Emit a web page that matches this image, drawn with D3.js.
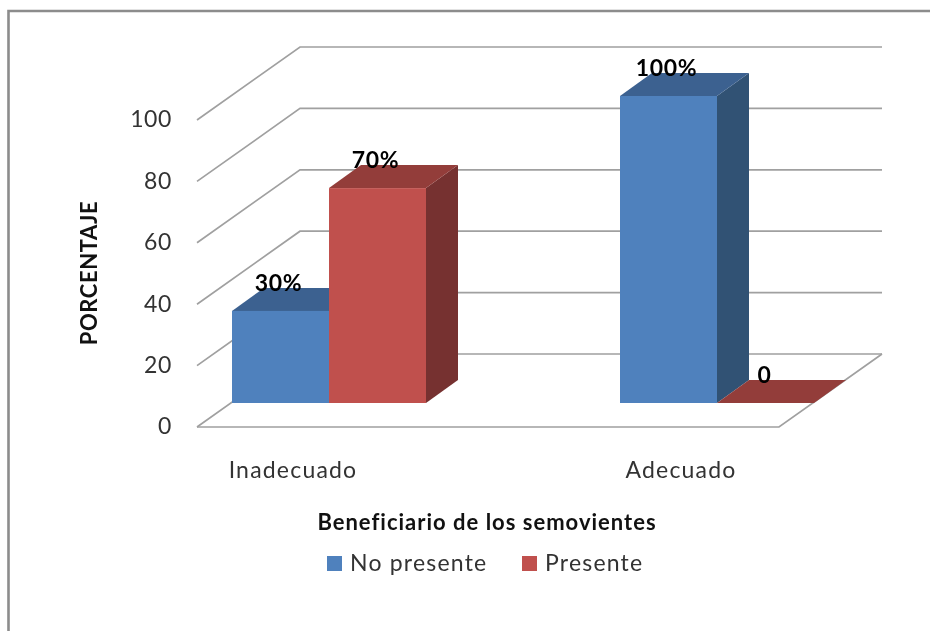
<!DOCTYPE html>
<html><head><meta charset="utf-8">
<script src="https://cdn.jsdelivr.net/npm/d3@7"></script>
<style>html,body{margin:0;padding:0;background:#fff}svg{display:block;filter:blur(0.45px)}text{font-family:Lato,"Open Sans",sans-serif}</style>
</head><body><svg id="c" width="930" height="631"></svg>
<script>
const categories = ["Inadecuado", "Adecuado"];
const seriesNames = ["No presente", "Presente"];
const noPresente = [30, 100];
const presente = [70, 0];
const dataLabels = [["30%", "100%"], ["70%", "0"]];
const yTicks = [0, 20, 40, 60, 80, 100];
const frontColors = ["#4f81bd", "#c0504d"];
const topColors = ["#3c6190", "#933d3a"];
const sideColors = ["#315274", "#763130"];

const svg = d3.select("#c");
svg.append("path").attr("d", "M8.5,631V11H930").attr("fill", "none").attr("stroke", "#8c8c8c").attr("stroke-width", 2.6);

const axisY = d3.scaleLinear().domain([0, 100]).range([427, 120]);
const depth = {dx: 103, dy: -73};
const floorLeft = 197, floorRight = 779;
const gridG = svg.append("g").attr("fill", "none").attr("stroke", "#a0a0a0").attr("stroke-width", 1.7);
yTicks.forEach(t => {
  const y = axisY(t);
  gridG.append("path").attr("d", `M${floorLeft},${y}L${floorLeft + depth.dx},${y + depth.dy}H${floorRight + depth.dx + 0}`);
});
gridG.append("path").attr("d", `M${floorLeft},427H${floorRight}L${floorRight + depth.dx},${427 + depth.dy}`);

const yAxis = d3.axisLeft(axisY).tickValues(yTicks).tickSize(0).tickPadding(0);
const yg = svg.append("g").attr("transform", "translate(172,0)").call(yAxis);
yg.select(".domain").remove();
yg.selectAll("text").attr("font-size", 23).attr("fill", "#333").attr("dy", "0.3em").attr("letter-spacing", 0.6).style("font-family", "Lato");

const xCat = d3.scaleBand().domain(categories).range([99, 875]);
const xSer = d3.scaleBand().domain(seriesNames).range([0, 194]);
const barH = d3.scaleLinear().domain([0, 100]).range([0, 307]);
const baseY = 403, barD = {dx: 32, dy: -23}, shift = xCat.bandwidth() / 2 + 36 - 97;

const bars = svg.append("g");
[noPresente, presente].forEach((vals, s) => {
  vals.forEach((v, c) => {
    const x0 = xCat(categories[c]) + shift + xSer(seriesNames[s]);
    const w = xSer.bandwidth(), h = barH(v), yt = baseY - h;
    const g = bars.append("g");
    g.append("path").attr("fill", sideColors[s]).attr("d", `M${x0 + w},${baseY}V${yt}l${barD.dx},${barD.dy}V${baseY + barD.dy}Z`);
    g.append("path").attr("fill", topColors[s]).attr("d", `M${x0},${yt}H${x0 + w}l${barD.dx},${barD.dy}H${x0 + barD.dx}Z`);
    if (h > 0) g.append("rect").attr("x", x0).attr("y", yt).attr("width", w).attr("height", h).attr("fill", frontColors[s]);
  });
});

const labels = svg.append("g").attr("font-size", 23).attr("fill", "#000").attr("text-anchor", "middle").attr("font-weight", 700).attr("letter-spacing", 0.6);
[noPresente, presente].forEach((vals, s) => {
  vals.forEach((v, c) => {
    const x0 = xCat(categories[c]) + shift + xSer(seriesNames[s]);
    labels.append("text").attr("x", x0 + xSer.bandwidth() / 2 + (v === 0 ? -1 : -2)).attr("y", baseY - barH(v) - 20).text(dataLabels[s][c]);
  });
});

svg.append("g").selectAll("text").data(categories).join("text")
  .attr("x", d => xCat(d) + xCat.bandwidth() / 2).attr("y", 478)
  .attr("text-anchor", "middle").attr("font-size", 23).attr("letter-spacing", 1.2).attr("fill", "#333").text(d => d);

svg.append("text").attr("x", 487).attr("y", 530).attr("text-anchor", "middle").attr("font-size", 22).attr("font-weight", 700).attr("letter-spacing", 1).attr("fill", "#111").text("Beneficiario de los semovientes");
svg.append("text").attr("transform", "translate(97,273) rotate(-90)").attr("text-anchor", "middle").attr("font-size", 22).attr("font-weight", 700).attr("letter-spacing", 0.6).attr("fill", "#111").text("PORCENTAJE");

const legendX = [327, 522];
seriesNames.forEach((n, i) => {
  svg.append("rect").attr("x", legendX[i]).attr("y", 556).attr("width", 15).attr("height", 15).attr("fill", frontColors[i]);
  svg.append("text").attr("x", legendX[i] + 23).attr("y", 571).attr("font-size", 23).attr("letter-spacing", 1.2).attr("fill", "#333").text(n);
});
</script></body></html>
